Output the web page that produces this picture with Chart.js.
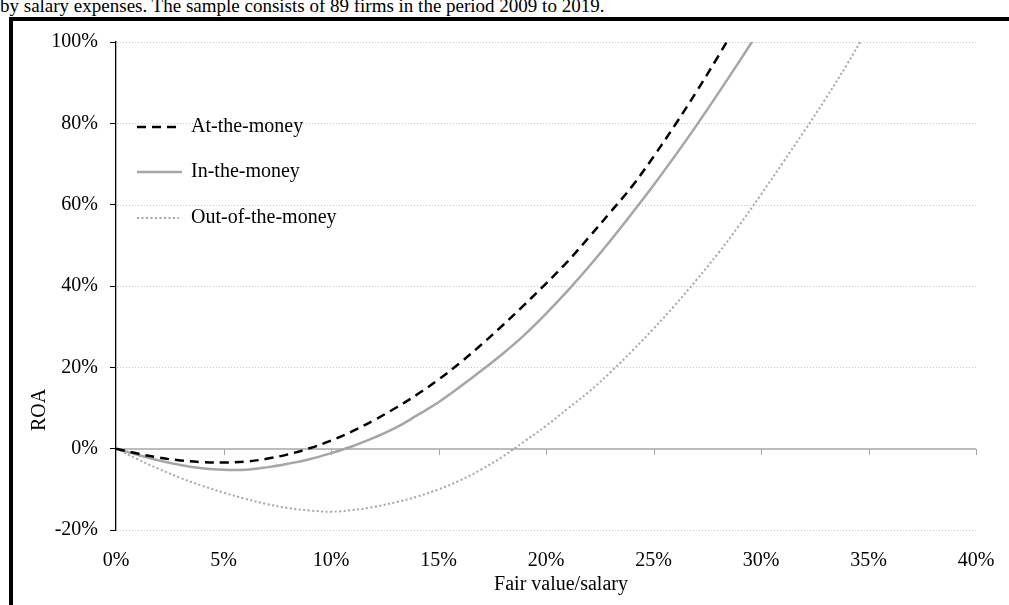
<!DOCTYPE html>
<html>
<head>
<meta charset="utf-8">
<script src="https://cdn.jsdelivr.net/npm/chart.js@4.4.1/dist/chart.umd.min.js"></script>
<style>
  html, body { margin: 0; padding: 0; background: #fff; width: 1009px; height: 605px; overflow: hidden; }
  body { position: relative; font-family: "Liberation Serif", "Times New Roman", serif; }
  #caption { position: absolute; left: 0; top: -4px; font-size: 19px; line-height: 19px; white-space: nowrap; color: #000; }
  #frameTop { position: absolute; left: 9px; top: 17px; width: 1000px; height: 4px; background: #000; }
  #frameLeft { position: absolute; left: 9px; top: 17px; width: 4px; height: 588px; background: #000; }
  #wrap { position: absolute; left: 0; top: 0; width: 1009px; height: 605px; }
</style>
</head>
<body>
<div id="caption">by salary expenses. The sample consists of 89 firms in the period 2009 to 2019.</div>
<div id="frameTop"></div>
<div id="frameLeft"></div>
<div id="wrap"><canvas id="roaChart" width="1009" height="605"></canvas></div>
<script>
// Fair value / salary (%), one point per percentage step
const fairValueSalary = [0,1,2,3,4,5,6,7,8,9,10,11,12,13,14,15,16,17,18,19,20,21,22,23,24,25,26,27,28,29,30,31,32,33,34,35];

// Predicted ROA (%) for each moneyness group
const atTheMoney = [0,-1.2,-2.2,-2.9,-3.3,-3.4,-3.2,-2.5,-1.4,0.1,2.0,4.3,7.0,10.0,13.3,17.0,21.1,25.6,30.4,35.4,40.6,46.0,52.0,58.2,64.5,71.8,79.6,87.8,96.4,105.4];
const inTheMoney = [0,-1.5,-2.9,-4.0,-4.8,-5.2,-5.2,-4.6,-3.7,-2.6,-1.1,0.6,2.7,5.1,8.2,11.4,15.2,19.2,23.4,28.0,33.2,38.8,44.8,51.2,57.9,64.8,72.0,79.5,87.3,95.3,103.5];
const outOfTheMoney = [0,-2.6,-5.0,-7.2,-9.1,-10.8,-12.3,-13.6,-14.6,-15.2,-15.5,-15.1,-14.3,-13.2,-11.8,-10.0,-7.8,-5.1,-1.9,1.8,5.6,9.8,14.0,18.8,24.0,29.5,35.3,41.5,48.0,55.0,62.5,70.2,78.0,86.0,94.5,103.5];

const seriesNames = ['At-the-money', 'In-the-money', 'Out-of-the-money'];

// Axis ranges and tick spacing
const xTicks = { min: 0, max: 40, step: 5 };
const yTicks = { min: -20, max: 100, step: 20 };

const FONT = '"Liberation Serif", "Times New Roman", serif';
const toPoints = (vals) => vals.map((v, i) => ({ x: fairValueSalary[i], y: v }));

// Dotted horizontal gridlines, the solid zero line and its tick marks
const axisDecor = {
  id: 'axisDecor',
  beforeDatasetsDraw(chart) {
    const { ctx, chartArea: a, scales: { x, y } } = chart;
    ctx.save();
    ctx.strokeStyle = '#c8c8c8';
    ctx.lineWidth = 1;
    ctx.setLineDash([1, 2]);
    y.ticks.forEach(t => {
      if (t.value === 0) return;
      const py = Math.round(y.getPixelForValue(t.value)) + 0.5;
      ctx.beginPath(); ctx.moveTo(a.left + 1, py); ctx.lineTo(a.right, py); ctx.stroke();
    });
    ctx.setLineDash([]);
    const y0 = Math.round(y.getPixelForValue(0));
    ctx.strokeStyle = '#a6a6a6';
    ctx.lineWidth = 1.5;
    ctx.beginPath(); ctx.moveTo(a.left, y0); ctx.lineTo(a.right, y0); ctx.stroke();
    ctx.lineWidth = 1;
    x.ticks.forEach(t => {
      if (t.value === 0) return;
      const px = Math.round(x.getPixelForValue(t.value)) + 0.5;
      ctx.beginPath(); ctx.moveTo(px, y0); ctx.lineTo(px, y0 + 6); ctx.stroke();
    });
    ctx.restore();
  }
};

// Legend inside the plot and the two axis titles
const annotations = {
  id: 'annotations',
  afterDatasetsDraw(chart) {
    const { ctx } = chart;
    ctx.save();
    const rows = [127, 172, 218];
    chart.data.datasets.forEach((ds, i) => {
      const yy = rows[i];
      ctx.strokeStyle = ds.borderColor;
      ctx.lineWidth = ds.borderWidth;
      ctx.setLineDash(ds.borderDash || []);
      ctx.beginPath(); ctx.moveTo(137, yy); ctx.lineTo(i === 2 ? 179 : 182, yy); ctx.stroke();
      ctx.setLineDash([]);
      ctx.fillStyle = '#000';
      ctx.font = '20px ' + FONT;
      ctx.textAlign = 'left';
      ctx.textBaseline = 'middle';
      ctx.fillText(ds.label, 191, yy);
    });
    ctx.fillStyle = '#000';
    ctx.font = '20px ' + FONT;
    ctx.textAlign = 'center';
    ctx.textBaseline = 'middle';
    ctx.fillText('Fair value/salary', 561, 585);
    ctx.translate(40, 410);
    ctx.rotate(-Math.PI / 2);
    ctx.fillText('ROA', 0, 0);
    ctx.restore();
  }
};

new Chart(document.getElementById('roaChart'), {
  type: 'line',
  data: {
    datasets: [
      { label: seriesNames[0], data: toPoints(atTheMoney), borderColor: '#000000', borderWidth: 2.5, borderDash: [9, 6], tension: 0.4, pointRadius: 0, fill: false, clip: 0 },
      { label: seriesNames[1], data: toPoints(inTheMoney), borderColor: '#a6a6a6', borderWidth: 2.5, tension: 0.4, pointRadius: 0, fill: false, clip: 0 },
      { label: seriesNames[2], data: toPoints(outOfTheMoney), borderColor: '#a6a6a6', borderWidth: 2, borderDash: [2, 2.5], tension: 0.4, pointRadius: 0, fill: false, clip: 0 }
    ]
  },
  options: {
    responsive: false,
    animation: false,
    devicePixelRatio: 1,
    layout: { padding: { top: 42, right: 33, left: 0, bottom: 0 } },
    plugins: { legend: { display: false }, tooltip: { enabled: false } },
    scales: {
      x: {
        type: 'linear',
        min: xTicks.min, max: xTicks.max,
        afterFit(s) { s.height = 75; },
        grid: { display: false },
        border: { display: false },
        ticks: { stepSize: xTicks.step, padding: 11, color: '#000', font: { family: FONT, size: 20 }, callback: v => v + '%', maxRotation: 0 }
      },
      y: {
        min: yTicks.min, max: yTicks.max,
        afterFit(s) { s.width = 116; },
        grid: { drawOnChartArea: false, tickLength: 6, tickColor: '#000', tickWidth: 1 },
        border: { display: true, color: '#000', width: 1.3 },
        ticks: { stepSize: yTicks.step, padding: 12, color: '#000', font: { family: FONT, size: 20 }, callback: v => v + '%' }
      }
    }
  },
  plugins: [axisDecor, annotations]
});
</script>
</body>
</html>
